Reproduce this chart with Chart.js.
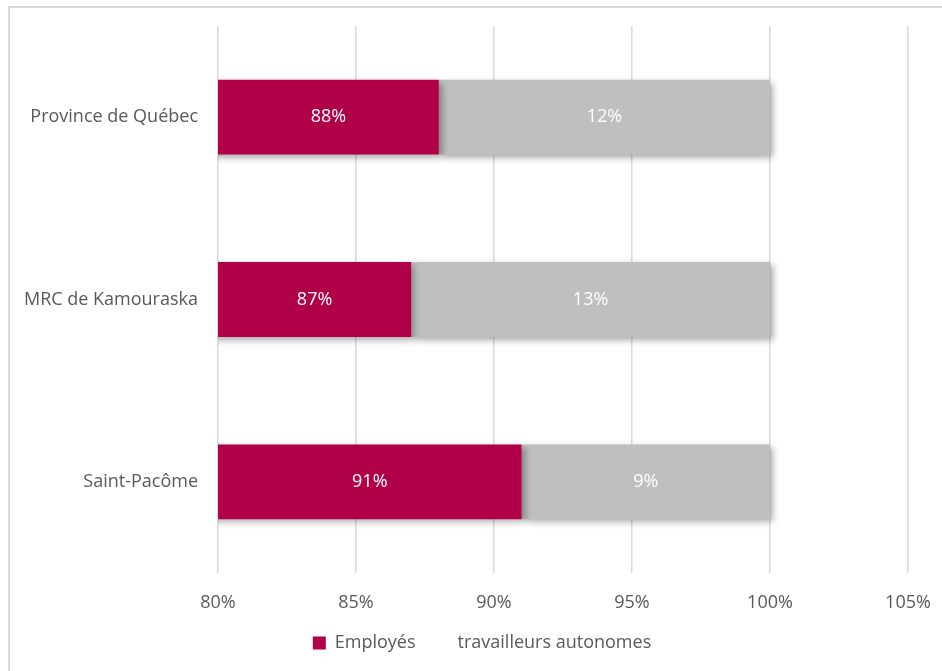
<!DOCTYPE html>
<html>
<head>
<meta charset="utf-8">
<script src="https://cdn.jsdelivr.net/npm/chart.js@4.4.0/dist/chart.umd.min.js"></script>
<style>
  html, body { margin: 0; padding: 0; background: #fff; overflow: hidden; }
  .frame {
    position: absolute; left: 8px; top: 6px; width: 960px; height: 700px;
    border: 2px solid #d9d9d9; box-sizing: border-box;
  }
  .wrap { position: absolute; left: 0; top: 0; width: 942px; height: 671px; }
</style>
</head>
<body>
<div class="frame"></div>
<div class="wrap"><canvas id="chart"></canvas></div>
<script>
const categories = ["Province de Québec", "MRC de Kamouraska", "Saint-Pacôme"];
const employes = [88, 87, 91];
const autonomes = [12, 13, 9];
const xTicks = [80, 85, 90, 95, 100, 105];

const FONT = "'Open Sans', sans-serif";
const SIZE = 18;

// soft offset shadow under the bars
const barShadow = {
  id: "barShadow",
  beforeDatasetsDraw(chart) {
    const ctx = chart.ctx;
    ctx.save();
    ctx.shadowColor = "rgba(0, 0, 0, 0.35)";
    ctx.shadowBlur = 7;
    ctx.shadowOffsetX = 3;
    ctx.shadowOffsetY = 3;
  },
  afterDatasetsDraw(chart) {
    chart.ctx.restore();
  },
};

// percent labels in the middle of the visible part of each bar
const barLabels = {
  id: "barLabels",
  afterDatasetsDraw(chart) {
    const ctx = chart.ctx;
    const left = chart.chartArea.left;
    ctx.save();
    ctx.font = SIZE + "px " + FONT;
    ctx.fillStyle = "#ffffff";
    ctx.textAlign = "center";
    ctx.textBaseline = "middle";
    chart.data.datasets.forEach((ds, i) => {
      chart.getDatasetMeta(i).data.forEach((bar, j) => {
        const start = Math.max(bar.base, left);
        ctx.fillText(ds.data[j] + "%", (start + bar.x) / 2, bar.y);
      });
    });
    ctx.restore();
  },
};

// legend sits a bit right of the canvas centre in the original
const legendShift = {
  id: "legendShift",
  afterLayout(chart) {
    chart.legend.left += 28;
    chart.legend.right += 28;
  },
};

new Chart(document.getElementById("chart"), {
  type: "bar",
  data: {
    labels: categories,
    datasets: [
      {
        label: "Employés",
        data: employes,
        backgroundColor: "#b00047",
        barPercentage: 0.41,
        categoryPercentage: 1,
      },
      {
        label: "travailleurs autonomes",
        data: autonomes,
        backgroundColor: "#bfbfbf",
        barPercentage: 0.41,
        categoryPercentage: 1,
      },
    ],
  },
  options: {
    indexAxis: "y",
    responsive: true,
    maintainAspectRatio: false,
    animation: false,
    layout: { padding: { top: 26, right: 34, left: 0, bottom: 9 } },
    plugins: {
      legend: {
        position: "bottom",
        labels: {
          font: { family: FONT, size: SIZE },
          color: "#595959",
          boxWidth: 13,
          boxHeight: 13,
          padding: 20,
          generateLabels(chart) {
            return chart.data.datasets.map((ds, i) => ({
              text: ds.label,
              fillStyle: i === 0 ? ds.backgroundColor : "rgba(0,0,0,0)",
              strokeStyle: "rgba(0,0,0,0)",
              lineWidth: 0,
              fontColor: "#595959",
              datasetIndex: i,
            }));
          },
        },
      },
      tooltip: { enabled: false },
    },
    scales: {
      x: {
        stacked: true,
        min: 80,
        max: 105,
        afterBuildTicks(scale) {
          scale.ticks = xTicks.map((v) => ({ value: v }));
        },
        afterFit(scale) {
          scale.height = 41;
          scale.paddingLeft = 0;
          scale.paddingRight = 0;
        },
        ticks: {
          callback: (v) => v + "%",
          font: { family: FONT, size: SIZE },
          color: "#595959",
          padding: 19,
        },
        grid: { color: "#d9d9d9", lineWidth: 1.5, drawTicks: false },
        border: { display: false },
      },
      y: {
        stacked: true,
        afterFit(scale) {
          scale.width = 218;
          scale.paddingTop = 0;
          scale.paddingBottom = 0;
        },
        ticks: {
          font: { family: FONT, size: SIZE },
          color: "#595959",
          padding: 20,
        },
        grid: { display: false, drawTicks: false },
        border: { display: false },
      },
    },
  },
  plugins: [barShadow, barLabels, legendShift],
});
</script>
</body>
</html>
